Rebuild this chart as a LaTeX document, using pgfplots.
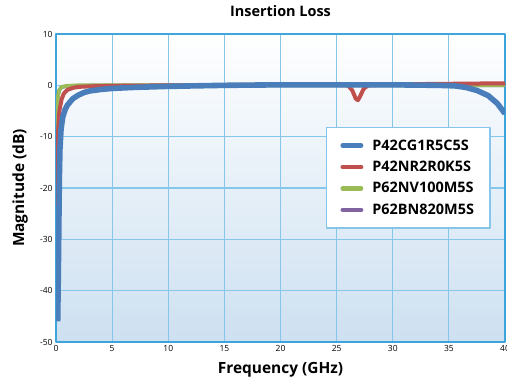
\documentclass[border=0pt]{standalone}
\usepackage{pgfplots}
\pgfplotsset{compat=1.18}
\usepackage{fontspec}
\setmainfont{Open Sans}
\definecolor{frameblue}{HTML}{3DA5DA}
\definecolor{gridblue}{HTML}{86C6EA}
\definecolor{bgbottom}{HTML}{CDE0F1}
\definecolor{cblue}{HTML}{4A7EBB}
\definecolor{cred}{HTML}{C0504D}
\definecolor{cgreen}{HTML}{9BBB59}
\definecolor{cpurple}{HTML}{8064A2}
\begin{document}
\begin{tikzpicture}
\begin{axis}[
    scale only axis,
    width=449bp, height=308bp,
    xmin=0, xmax=40, ymin=-50, ymax=10,
    xtick={0,5,...,40},
    ytick={-50,-40,...,10},
    yticklabels={-50,-40,-30,-20,-10,0,10},
    xticklabels={0,5,10,15,20,25,30,35,40},
    tick label style={font=\fontsize{8.5}{10}\selectfont, text=black},
    major tick length=0pt,
    grid=major,
    grid style={gridblue, line width=1.2bp},
    axis line style={frameblue, line width=2.6bp},
    axis background/.style={top color=white, bottom color=bgbottom},
    title={Insertion Loss},
    title style={font=\fontsize{14.5}{16}\selectfont\bfseries, at={(0.5,1)}, anchor=base, yshift=12bp},
    xlabel={Frequency (GHz)},
    ylabel={Magnitude (dB)},
    label style={font=\fontsize{15.5}{17}\selectfont\bfseries},
    xlabel style={at={(0.5,0)}, anchor=base, yshift=-32bp},
    ylabel style={at={(0,0.5)}, anchor=center, yshift=36bp},
    legend style={at={(0.601,0.698)}, anchor=north west, draw=gridblue, line width=1.2bp,
        fill=white, font=\fontsize{14.5}{16}\selectfont\bfseries, row sep=5.5bp,
        inner xsep=14bp, inner ysep=10bp,
        /tikz/every odd column/.append style={column sep=7bp}},
    legend cell align=left,
    legend image code/.code={\draw[line cap=round, line width=4.5bp] (0cm,0cm) -- (0.65cm,0cm);},
    reverse legend,
    line join=round,
]
\addplot[cpurple, line width=3.5bp] coordinates {
(0.02,-14) (0.05,-7.5) (0.1,-3.8) (0.2,-1.7) (0.3,-0.9) (0.5,-0.35) (1,-0.15) (2,-0.05) (5,0) (20,0) (40,0)};
\addlegendentry{P62BN820M5S}
\addplot[cgreen, line width=3.8bp] coordinates {
(0.02,-16) (0.05,-8) (0.1,-4) (0.2,-1.8) (0.3,-0.9) (0.5,-0.3) (1,-0.1) (2,0) (5,0) (20,0) (40,0)};
\addlegendentry{P62NV100M5S}
\addplot[cred, line width=4bp] coordinates {
(0.08,-34) (0.1,-22) (0.15,-13) (0.2,-8.5) (0.3,-5) (0.5,-2.7) (0.7,-1.6) (1,-0.9) (1.5,-0.5) (2,-0.3) (3,-0.2) (5,-0.1) (10,0) (20,0.1) (25,0.1) (26,0) (26.4,-1) (26.7,-2.6) (26.9,-2.9) (27.1,-2.1) (27.4,-0.7) (27.8,0) (30,0.2) (35,0.3) (40,0.4)};
\addlegendentry{P42NR2R0K5S}
\addplot[cblue, line width=5.6bp] coordinates {
(0.15,-46) (0.2,-38) (0.25,-28) (0.3,-18) (0.35,-12.5) (0.45,-8.5) (0.6,-6.2) (0.8,-4.8) (1,-3.9) (1.5,-2.6) (2,-1.9) (2.5,-1.4) (3,-1.1) (4,-0.8) (5,-0.6) (7,-0.4) (10,-0.2) (15,0) (20,0.1) (25,0.1) (30,0.1) (34,0) (35.5,-0.1) (36.5,-0.4) (37.5,-1) (38.5,-2) (39.3,-3.5) (40,-5.5)};
\addlegendentry{P42CG1R5C5S}
\end{axis}
\pgfresetboundingbox
\path[use as bounding box] (current axis.south west) ++(-56bp,-36bp) rectangle ([xshift=2bp,yshift=34bp]current axis.north east);
\end{tikzpicture}
\end{document}
